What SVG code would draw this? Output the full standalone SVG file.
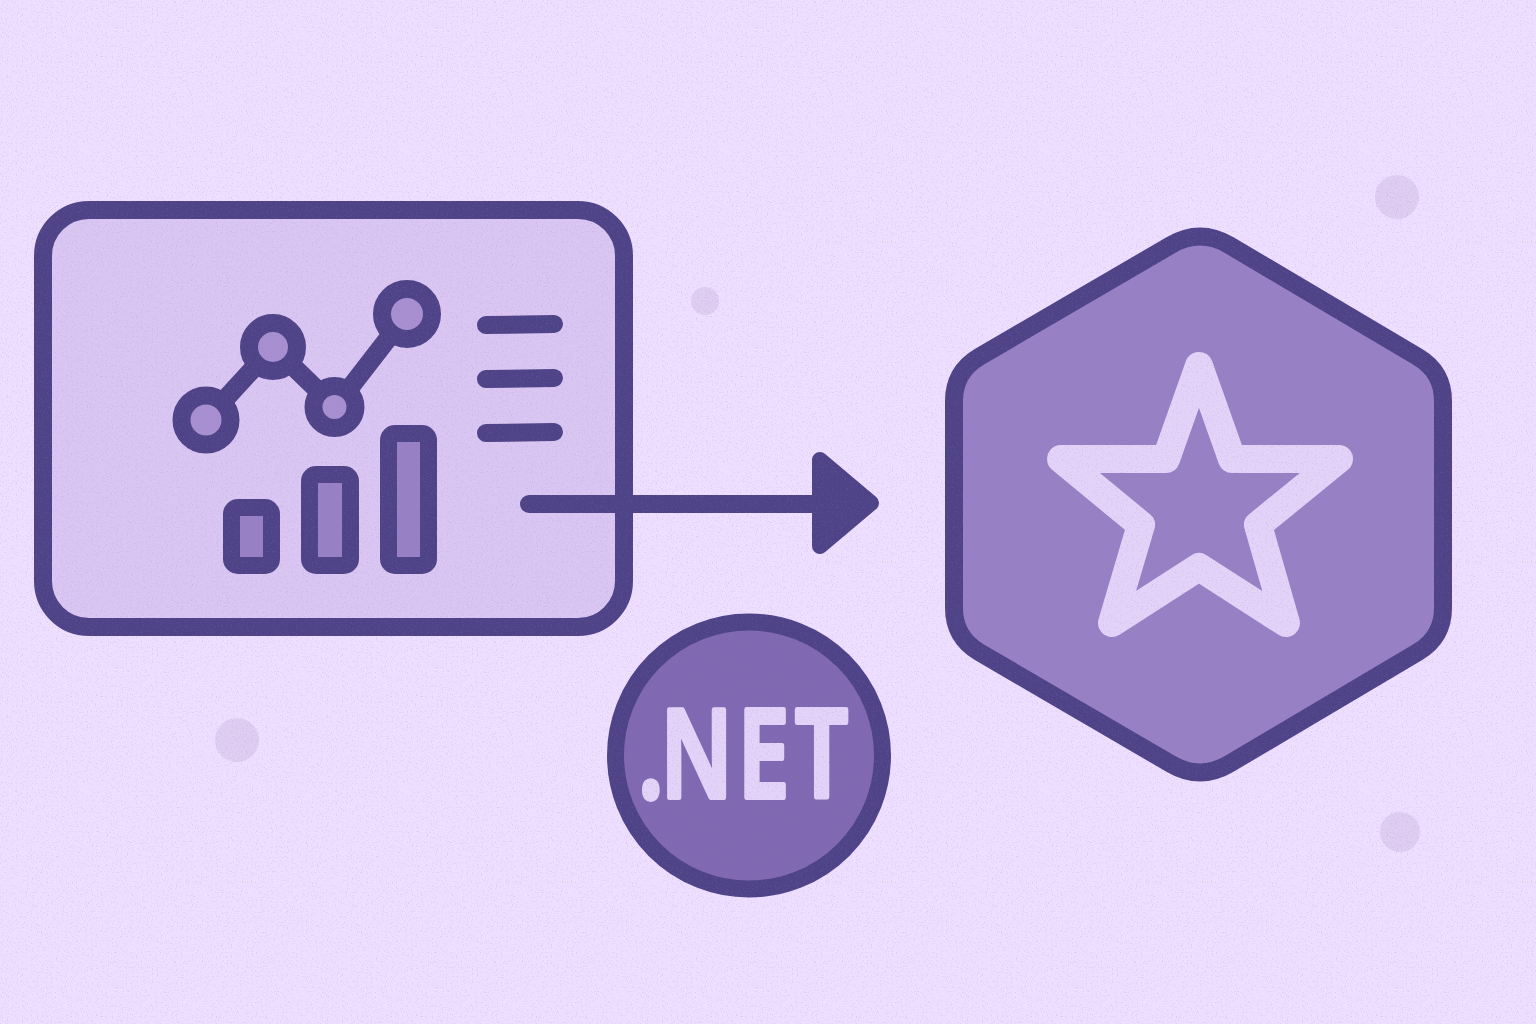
<svg xmlns="http://www.w3.org/2000/svg" width="1536" height="1024" viewBox="0 0 1536 1024">
<style>
.ink{stroke:#4f4388;fill:none;stroke-linecap:round;stroke-linejoin:round}
.pt{fill:#a78fd0;stroke:#4f4388;stroke-width:18}
.bar{fill:#4f4388}
.barin{fill:#9880c4}
.dot{fill:#dfcdf2}
</style>
<defs>
<filter id="grain" x="0" y="0" width="100%" height="100%">
<feTurbulence type="fractalNoise" baseFrequency="0.8" numOctaves="2" seed="4"/>
<feColorMatrix values="0 0 0 0 0.3  0 0 0 0 0.2  0 0 0 0 0.5  4 0 0 0 -2.2"/>
</filter>
</defs>
<rect width="1536" height="1024" fill="#eedeff"/>
<g id="specks">
<circle class="dot" cx="1397" cy="197" r="22"/>
<circle class="dot" cx="705" cy="301" r="14"/>
<circle class="dot" cx="237" cy="740" r="22"/>
<circle class="dot" cx="1400" cy="832" r="20"/>
</g>
<g id="dashboard">
<rect x="43" y="210" width="581" height="417" rx="46" fill="#dac6f2" stroke="#4f4388" stroke-width="18"/>
<path class="ink" stroke-width="19" d="M206 420L273 347L335 407L407 314"/>
<circle class="pt" cx="206" cy="420" r="24.500"/>
<circle class="pt" cx="273" cy="347" r="24"/>
<circle class="pt" cx="334.500" cy="407" r="21"/>
<circle class="pt" cx="407" cy="314" r="25"/>
<path class="ink" stroke-width="18" d="M486 325L554 324M486 379L554 378M486 433L554 432"/>
<rect class="bar" x="223" y="499" width="57" height="75" rx="15"/>
<rect class="barin" x="240" y="516" width="23" height="41"/>
<rect class="bar" x="301" y="466" width="58" height="108" rx="15"/>
<rect class="barin" x="318" y="483" width="24" height="74"/>
<rect class="bar" x="380" y="425" width="57" height="149" rx="15"/>
<rect class="barin" x="397" y="442" width="23" height="115"/>
</g>
<g id="badge">
<path d="M1171 245Q1200 228 1229 245L1418 357Q1443 372 1443 401V608Q1443 637 1418 652L1229 764Q1200 781 1171 764L979 652Q954 637 954 608V401Q954 372 979 357Z" fill="#9880c4" stroke="#4f4388" stroke-width="18" stroke-linejoin="round"/>
<path d="M1199 366L1232 459H1339L1258 525L1286 623L1199 567L1112 623L1141 525L1061 459H1166Z" fill="none" stroke="#e4d3f9" stroke-width="28" stroke-linejoin="round"/>
</g>
<g id="dotnet">
<circle cx="749" cy="755.500" r="133.500" fill="#8069b2" stroke="#4f4388" stroke-width="17"/>
<text transform="translate(0 797) scale(0.75 1)" y="0" x="851 881 984 1061" font-family="'Open Sans','Liberation Sans',sans-serif" font-weight="600" font-size="122" fill="#e4d3f9" stroke="#e4d3f9" stroke-width="6" stroke-linejoin="round">.NET</text>
</g>
<g id="connectors">
<path class="ink" stroke-width="18" d="M529 504H830"/>
<path d="M820 460L871 503L820 546Z" fill="#4f4388" stroke="#4f4388" stroke-width="16" stroke-linejoin="round"/>
</g>
<rect id="grain-overlay" width="1536" height="1024" filter="url(#grain)" opacity="0.2"/>
</svg>
